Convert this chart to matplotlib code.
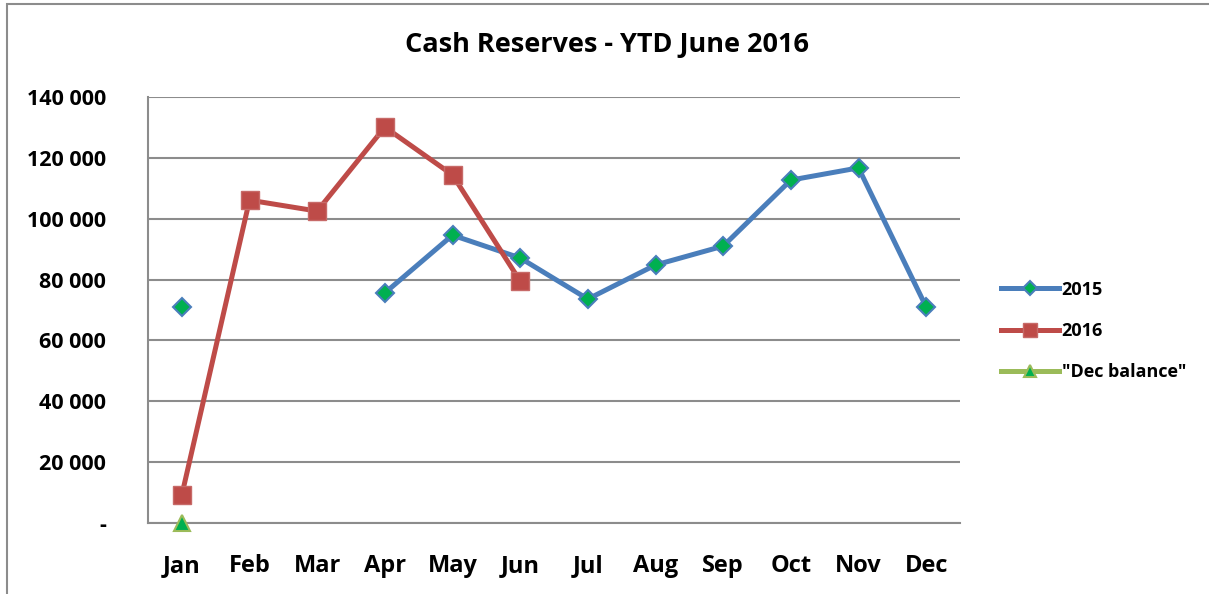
import numpy as np
import matplotlib
matplotlib.use("Agg")
import matplotlib.pyplot as plt
from matplotlib.patches import Rectangle

plt.rcParams['font.family'] = ['Open Sans', 'DejaVu Sans']
plt.rcParams['font.weight'] = 'bold'

months = ["Jan", "Feb", "Mar", "Apr", "May", "Jun", "Jul", "Aug", "Sep", "Oct", "Nov", "Dec"]
series_2015 = [71000, np.nan, np.nan, 75600, 94600, 87100, 73600, 84800, 91000, 112700, 116700, 71000]
series_2016 = [9200, 106100, 102500, 130100, 114400, 79500]
dec_balance = [0]
yticks = [0, 20000, 40000, 60000, 80000, 100000, 120000, 140000]
ytick_labels = ["-", "20 000", "40 000", "60 000", "80 000", "100 000", "120 000", "140 000"]

W, H = 1209, 594
fig = plt.figure(figsize=(W / 100, H / 100), dpi=100)
fig.patches.append(Rectangle((7 / W, -0.05), 1.1, (590 / H) + 0.05, transform=fig.transFigure,
                             fill=False, edgecolor='#8c8c8c', linewidth=1.5))

ax = fig.add_axes([148 / W, (H - 523) / H, (960 - 148) / W, (523 - 97) / H])

x = np.arange(len(months)) + 0.5
blue = '#4A7EBB'
red = '#BE4B48'
green_line = '#9BBB59'
green_fill = '#00B050'

ax.plot(x, series_2015, color=blue, lw=3.6, marker='D', markersize=9,
        markerfacecolor=green_fill, markeredgecolor=blue, markeredgewidth=1.5, label='2015', zorder=3)
ax.plot(x[:len(series_2016)], series_2016, color=red, lw=3.6, marker='s', markersize=13,
        markerfacecolor=red, markeredgecolor='#C76A68', markeredgewidth=1, label='2016', zorder=4)
ax.plot(x[:len(dec_balance)], dec_balance, color=green_line, lw=3.6, marker='^', markersize=12,
        markerfacecolor=green_fill, markeredgecolor=green_line, markeredgewidth=1.5,
        label='"Dec balance"', zorder=5, clip_on=False)

ax.set_xlim(0, 12)
ax.set_ylim(0, 140000)
ax.set_xticks(x)
ax.set_xticklabels(months, fontsize=17, fontweight='bold')
ax.set_yticks(yticks)
ax.set_yticklabels(ytick_labels, fontsize=15.5, fontweight='bold')
ax.tick_params(axis='x', length=0, pad=22)
ax.tick_params(axis='y', length=0, pad=30)
ax.yaxis.grid(True, color='#8c8c8c', lw=1.5)
ax.set_axisbelow(True)
for s in ['top', 'right']:
    ax.spines[s].set_visible(False)
for s in ['left', 'bottom']:
    ax.spines[s].set_color('#8c8c8c')
    ax.spines[s].set_linewidth(1.5)

fig.text(607 / W, 1 - 45 / H, "Cash Reserves - YTD June 2016", ha='center', va='center',
         fontsize=19.5, fontweight='bold')

leg = fig.legend(loc='center left', bbox_to_anchor=(985 / W, 1 - 331 / H), frameon=False,
                 prop={'size': 13, 'weight': 'bold'}, handlelength=3.2, handletextpad=0.15,
                 labelspacing=1.3, markerscale=0.75)

fig.savefig("out.png", dpi=100)
